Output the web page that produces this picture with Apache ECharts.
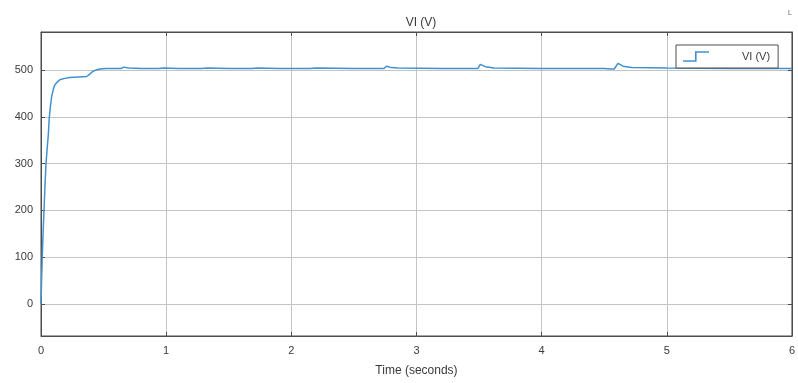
<!DOCTYPE html>
<html>
<head>
<meta charset="utf-8">
<script src="https://cdn.jsdelivr.net/npm/echarts@6/dist/echarts.min.js"></script>
<style>
  html, body { margin: 0; padding: 0; background: #fff; }
  #chart { width: 798px; height: 383px; }
</style>
</head>
<body>
<div id="chart"></div>
<script>
// Simulated inverter voltage, sampled over the 6 s run
const timeSeconds = [
  0, 0.005, 0.01, 0.017, 0.024, 0.032, 0.04, 0.05, 0.058, 0.066,
  0.075, 0.085, 0.1, 0.11, 0.13, 0.15, 0.19, 0.23, 0.3, 0.365,
  0.38, 0.39, 0.41, 0.42, 0.44, 0.47, 0.52, 0.58, 0.64, 0.65,
  0.66, 0.7, 0.8, 0.94, 0.95, 0.98, 1.1, 1.28, 1.29, 1.33,
  1.5, 1.68, 1.69, 1.73, 1.9, 2.15, 2.16, 2.2, 2.5, 2.74,
  2.76, 2.8, 2.85, 3.2, 3.49, 3.51, 3.55, 3.62, 4.0, 4.5,
  4.56, 4.58, 4.61, 4.65, 4.72, 5.0, 5.5, 6.0
];
const voltage = [
  0, 55, 100, 155, 200, 255, 300, 335, 360, 397,
  422, 443, 460, 468, 474, 479, 482, 484, 485, 486,
  488, 491, 496, 498, 500, 502, 503, 503, 503, 507,
  506, 504, 503, 503, 506, 504, 503, 503, 507, 504,
  503, 503, 507, 504, 503, 503, 507, 504, 503, 503,
  508, 505, 504, 503, 503, 512, 507, 504, 503, 503,
  502, 502, 514, 508, 505, 504, 503, 503
];
const xTicks = [0, 1, 2, 3, 4, 5, 6];
const yTicks = [0, 100, 200, 300, 400, 500];

const seriesName = 'VI (V)';
const titleText = 'VI (V)';
const xAxisName = 'Time (seconds)';

const points = timeSeconds.map((t, i) => [t, voltage[i]]);

const textColor = '#3a3a3a';
const frameColor = '#4d4d4d';
const gridColor = '#c4c4c4';
const lineColor = '#4190cf';
const fontFamily = 'Liberation Sans, Arial, sans-serif';

const yMin = -68, yMax = 581;

const chart = echarts.init(document.getElementById('chart'), null, { renderer: 'canvas' });

const tickLabel = v => (yTicks.indexOf(v) >= 0 ? String(v) : '');

chart.setOption({
  animation: false,
  backgroundColor: '#ffffff',
  textStyle: { fontFamily },
  title: {
    text: titleText,
    left: 416,
    top: 12,
    textAlign: 'center',
    textStyle: { fontSize: 12, fontWeight: 'normal', color: textColor, fontFamily }
  },
  grid: {
    left: 41, right: 6, top: 32, bottom: 47,
    show: true, borderColor: frameColor, borderWidth: 1, backgroundColor: 'transparent'
  },
  legend: {
    data: [{
      name: seriesName,
      icon: 'path://M0,9 L12,9 L12,0 L26,0 L26,1.6 L13.6,1.6 L13.6,10.6 L0,10.6 Z'
    }],
    left: 676, top: 45,
    orient: 'vertical',
    padding: [6, 8, 6, 7],
    itemWidth: 26, itemHeight: 11,
    borderColor: frameColor, borderWidth: 1,
    backgroundColor: '#fff',
    textStyle: { fontSize: 11, color: textColor, fontFamily, padding: [0, 0, 0, 28] }
  },
  xAxis: [{
    type: 'value', min: 0, max: 6, interval: 1, position: 'bottom',
    name: xAxisName, nameLocation: 'middle', nameGap: 29,
    nameTextStyle: { fontSize: 12, color: textColor, fontFamily },
    axisLine: { show: true, onZero: false, lineStyle: { color: frameColor } },
    axisTick: { show: true, inside: true, length: 4, lineStyle: { color: frameColor } },
    axisLabel: { fontSize: 11, color: textColor, margin: 9, fontFamily,
      formatter: v => (xTicks.indexOf(v) >= 0 ? String(v) : '') },
    splitLine: { show: true, lineStyle: { color: gridColor, width: 1 } }
  }, {
    type: 'value', min: 0, max: 6, interval: 1, position: 'top',
    axisLine: { show: true, onZero: false, lineStyle: { color: frameColor } },
    axisTick: { show: true, inside: true, length: 4, lineStyle: { color: frameColor } },
    axisLabel: { show: false },
    splitLine: { show: false }
  }],
  yAxis: [{
    type: 'value', min: yMin, max: yMax, position: 'left',
    axisLine: { show: true, onZero: false, lineStyle: { color: frameColor } },
    axisTick: { show: true, inside: true, length: 4, customValues: yTicks,
      lineStyle: { color: frameColor } },
    axisLabel: { fontSize: 11, color: textColor, margin: 8, fontFamily,
      customValues: yTicks, formatter: tickLabel },
    splitLine: { show: true, lineStyle: { color: gridColor, width: 1 } }
  }, {
    type: 'value', min: yMin, max: yMax, position: 'right',
    axisLine: { show: true, onZero: false, lineStyle: { color: frameColor } },
    axisTick: { show: true, inside: true, length: 4, customValues: yTicks,
      lineStyle: { color: frameColor } },
    axisLabel: { show: false },
    splitLine: { show: false }
  }],
  graphic: [{
    type: 'text', left: 788, top: 10,
    style: { text: 'L', fontSize: 7, fill: '#666', fontFamily }
  }],
  series: [{
    name: seriesName,
    type: 'line',
    xAxisIndex: 0, yAxisIndex: 0,
    data: points,
    showSymbol: false,
    symbol: 'none',
    lineStyle: { color: lineColor, width: 1.5 },
    itemStyle: { color: lineColor },
    z: 3
  }]
});
</script>
</body>
</html>
